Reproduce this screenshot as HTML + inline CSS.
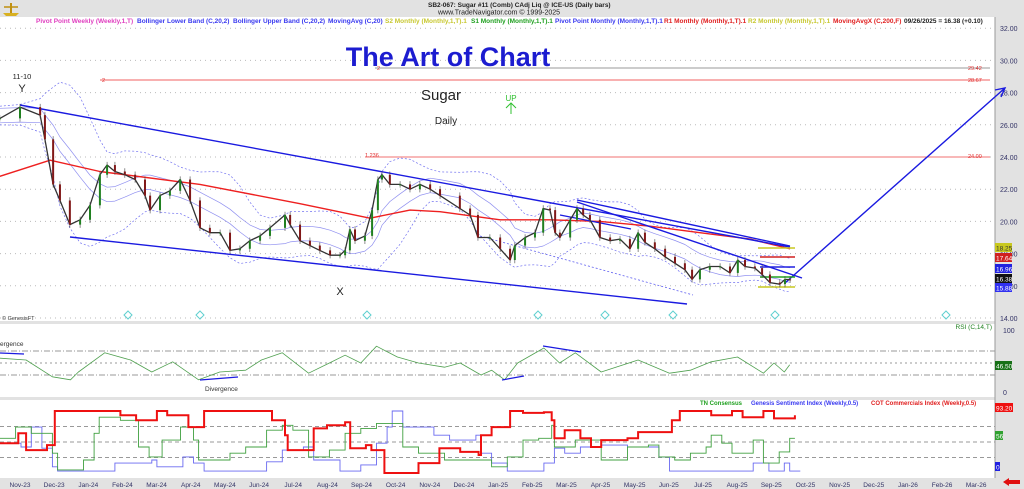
<!DOCTYPE html>
<html><head><meta charset="utf-8">
<style>
body{margin:0;background:#fff;font-family:"Liberation Sans",sans-serif;}
svg{display:block}
text{font-family:"Liberation Sans",sans-serif}
</style></head>
<body>
<svg id="c" width="1024" height="489" viewBox="0 0 1024 489" xmlns="http://www.w3.org/2000/svg">
<rect x="0" y="0" width="1024" height="489" fill="#fff"/>
<rect x="0" y="0" width="1024" height="17" fill="#e2e2e2"/>
<rect x="995" y="0" width="29" height="489" fill="#e2e2e2"/>
<rect x="0" y="478" width="1024" height="11" fill="#e2e2e2"/>
<rect x="0" y="321" width="995" height="3" fill="#e2e2e2"/>
<rect x="0" y="397" width="995" height="3" fill="#e2e2e2"/>
<line x1="995" y1="17" x2="995" y2="478" stroke="#999"/>
<g><path d="M3 13 L19 13 L16 16 L6 16Z" fill="#d8b020"/><line x1="11" y1="3" x2="11" y2="13" stroke="#c09010" stroke-width="2"/><line x1="4" y1="7" x2="18" y2="7" stroke="#c09010" stroke-width="1.5"/></g>
<text x="428" y="7" font-size="6.5" font-weight="bold" fill="#222">SB2-067:  Sugar #11 (Comb) CAdj Liq @ ICE-US  (Daily bars)</text>
<text x="438" y="14.5" font-size="7" fill="#222">www.TradeNavigator.com © 1999-2025</text>
<g font-size="6.5" font-weight="bold">
<text x="36" y="23" fill="#e040c0">Pivot Point Weekly (Weekly,1,T)</text>
<text x="137" y="23" fill="#3a3af0">Bollinger Lower Band (C,20,2)</text>
<text x="233" y="23" fill="#3a3af0">Bollinger Upper Band (C,20,2)</text>
<text x="328" y="23" fill="#3a3af0">MovingAvg (C,20)</text>
<text x="385" y="23" fill="#c8c830">S2 Monthly (Monthly,1,T).1</text>
<text x="471" y="23" fill="#20a020">S1 Monthly (Monthly,1,T).1</text>
<text x="555" y="23" fill="#3a3af0">Pivot Point Monthly (Monthly,1,T).1</text>
<text x="664" y="23" fill="#e02020">R1 Monthly (Monthly,1,T).1</text>
<text x="748" y="23" fill="#c8c830">R2 Monthly (Monthly,1,T).1</text>
<text x="833" y="23" fill="#e02020">MovingAvgX (C,200,F)</text>
<text x="904" y="23" fill="#222">09/26/2025 = 16.38 (+0.10)</text>
</g>
<g id="grid"></g>
<g id="marks"></g>
<text x="448" y="66" font-size="27" font-weight="bold" fill="#1c1cd0" text-anchor="middle">The Art of Chart</text>
<text x="441" y="100" font-size="15" fill="#222" text-anchor="middle">Sugar</text>
<text x="446" y="124" font-size="10" fill="#222" text-anchor="middle">Daily</text>
<text x="511" y="101" font-size="8" fill="#30c030" text-anchor="middle">UP</text>
<path d="M511 103 L511 114 M506 108 L511 103 L516 108" stroke="#30c030" fill="none"/>
<text x="22" y="79" font-size="7.5" fill="#222" text-anchor="middle">11-10</text>
<text x="22" y="92" font-size="11" fill="#222" text-anchor="middle">Y</text>
<text x="340" y="295" font-size="11" fill="#222" text-anchor="middle">X</text>
<text x="2" y="320" font-size="5.5" fill="#333">© GenesisFT</text>
<text x="992" y="329" font-size="6.5" fill="#208020" text-anchor="end">RSI (C,14,T)</text>
<text x="0" y="346" font-size="6.5" fill="#333">ergence</text>
<text x="205" y="391" font-size="6.5" fill="#333">Divergence</text>
<g font-size="6" font-weight="bold">
<text x="700" y="405" fill="#20a020">TN Consensus</text>
<text x="751" y="405" fill="#3a3af0">Genesis Sentiment Index (Weekly,0.5)</text>
<text x="871" y="405" fill="#e02020">COT Commercials Index (Weekly,0.5)</text>
</g>
<path d="M1003 482 L1009 478 L1009 480 L1020 480 L1020 484 L1009 484 L1009 486Z" fill="#e01010"/>
</svg>
<script>
// ---- data ----
const priceT=[-0.59,0,0.59,0.73,0.97,1.17,1.46,1.76,2.05,2.34,2.55,2.78,3.07,3.37,3.66,3.81,4.1,4.39,4.69,4.98,5.27,5.56,5.86,6.15,6.44,6.73,7.03,7.32,7.76,7.91,8.2,8.49,8.78,9.08,9.37,9.52,9.66,9.81,10.1,10.31,10.48,10.6,10.83,11.13,11.42,11.71,12.01,12.3,12.88,13.18,13.41,13.76,14.06,14.35,14.49,14.79,15.08,15.32,15.52,15.67,15.81,16.11,16.31,16.49,16.69,16.98,17.28,17.57,17.86,18.1,18.3,18.59,18.89,19.18,19.47,19.68,19.91,20.2,20.5,20.79,21.02,21.23,21.52,21.73,21.96,22.25,22.4,22.55];
const priceClose=[26.4,27.1,26.6,25.1,22.3,21.3,19.8,20.1,21.0,22.9,23.5,23.1,22.9,22.6,21.6,20.7,21.6,21.9,22.6,21.3,19.6,19.3,19.3,18.2,18.3,18.8,19.1,19.6,20.4,19.8,18.8,18.5,18.2,17.9,17.9,18.2,19.5,18.8,19.1,20.7,22.6,22.9,22.3,22.3,22.0,22.3,22.0,21.6,20.8,20.4,19.0,19.0,18.3,17.6,18.5,19.0,19.3,20.8,20.7,19.3,19.0,20.1,20.8,20.4,20.1,19.0,18.8,18.9,18.3,19.3,18.7,18.3,17.8,17.4,17.0,16.4,17.0,17.2,17.2,16.8,17.6,17.2,17.1,16.7,16.2,16.1,16.4,16.38];
const ma200T=[-0.59,0.88,2.34,5.27,8.2,10.25,11.42,12.3,14.06,15.52,16.98,18.45,19.91,21.38,22.55];
const ma200Val=[22.8,23.8,23.1,22.3,21.1,20.2,20.7,20.6,20.1,20.1,20.0,19.7,19.3,18.9,18.3];
const rsiT=[-0.59,0.18,0.95,1.48,1.71,2.48,3.24,3.86,4.47,5.23,5.85,6.61,7.07,7.68,8.45,9.06,9.52,9.98,10.44,11.05,11.67,12.43,12.89,13.5,13.81,14.19,14.57,15.34,15.8,16.26,17.02,18.1,19.02,19.63,20.24,21.01,21.77,22.08,22.38,22.54];
const rsiVal=[58,55,27,22,35,67,55,35,52,22,35,38,55,67,33,50,63,50,78,60,50,43,50,30,38,22,50,75,50,67,35,55,33,38,52,60,33,50,35,47];
const cotT=[-0.59,-0.05,0.18,0.79,1.02,2.55,2.94,3.4,4.01,4.31,4.93,5.39,7.15,7.38,7.76,7.84,8.45,8.6,8.99,9.52,9.67,10.13,10.29,10.67,11.05,11.67,12.28,12.89,13.43,13.5,13.81,14.35,14.73,15.34,15.57,15.65,15.95,16.41,16.72,17.02,17.79,18.1,18.71,19.09,19.32,20.24,20.85,21.16,21.77,22.08,22.69];
const cotVal=[48,64,37,45,100,100,93,85,100,93,74,100,100,85,61,37,37,72,77,82,40,45,37,0,0,16,40,34,29,61,74,100,97,98,85,56,69,56,42,53,56,66,66,85,100,93,100,90,100,88,93];
const tnT=[-0.59,-0.13,0.33,0.95,1.1,1.71,1.86,2.17,2.32,2.94,3.47,3.78,4.16,4.7,5.08,5.23,6.15,6.61,7.22,7.68,7.99,8.45,9.06,9.52,9.98,10.44,11.21,11.67,12.43,13.35,13.81,14.27,14.73,15.19,15.57,15.65,16.26,17.02,17.79,18.4,18.71,19.17,19.63,20.09,20.24,20.55,20.85,21.47,21.77,22.23,22.54,22.69];
const tnVal=[56,74,64,32,5,5,21,64,90,85,42,26,53,74,53,21,32,42,69,77,69,26,37,64,72,80,42,32,21,21,10,26,53,56,77,42,53,21,42,45,26,21,32,42,61,48,32,53,16,34,56,56];
const genT=[-0.59,0.03,0.33,0.64,0.95,1.1,2.48,2.78,3.86,4.01,4.77,5.08,5.39,6.92,7.22,7.68,8.3,8.6,9.37,9.98,10.44,10.75,10.9,11.21,11.67,12.12,12.58,13.35,13.5,13.81,14.27,15.34,15.65,15.95,16.41,17.02,17.79,18.71,19.02,21.16,21.47,21.93,22.38,22.54,22.85];
const genVal=[48,42,74,40,10,3,3,16,21,10,26,16,3,3,18,37,42,21,3,13,48,74,100,74,74,61,53,61,32,16,3,16,40,32,42,45,42,26,3,3,16,3,16,3,3];
const monthLabels=["Nov-23","Dec-23","Jan-24","Feb-24","Mar-24","Apr-24","May-24","Jun-24","Jul-24","Aug-24","Sep-24","Oct-24","Nov-24","Dec-24","Jan-25","Feb-25","Mar-25","Apr-25","May-25","Jun-25","Jul-25","Aug-25","Sep-25","Oct-25","Nov-25","Dec-25","Jan-26","Feb-26","Mar-26"];
const priceTicks=[32,30,28,26,24,22,20,18,16,14];
const lastLabels=[18.25,17.64,16.96,16.38,15.88];
const lastColors=["#c8c820","#d02020","#2020e0","#111","#3030f0"];

// ---- scales ----
const X=t=>20+t*34.15;
const YP=p=>318-(p-14)*16.1;
const YR=v=>393-v*0.6;
const YB=v=>473-v*0.62;
const NS="http://www.w3.org/2000/svg";
const grid=document.getElementById('grid'), marks=document.getElementById('marks');
function mk(tag,at,parent){const e=document.createElementNS(NS,tag);for(const k in at)e.setAttribute(k,at[k]);(parent||marks).appendChild(e);return e;}

priceTicks.forEach(p=>{
  const l=mk('line',{x1:0,x2:995,y1:YP(p),y2:YP(p),stroke:'#bbb','stroke-dasharray':'1 4'},grid);
  
  
  const t=mk('text',{x:1000,y:YP(p)+3,'font-size':7,fill:'#336'},grid);
  t.textContent=p.toFixed(2);
  
  
});
[70,50,30].forEach((v,i)=>{
  const l=mk('line',{x1:0,x2:995,y1:YR(v),y2:YR(v),stroke:'#999','stroke-dasharray':i==1?'2 3':'6 2 1 2'},grid);
  
  
});
[[100,333],[0,395]].forEach(a=>{const t=mk('text',{x:1003,y:a[1],'font-size':7,fill:'#336'},grid);t.textContent=a[0];
  
  });
[75,50,25].forEach(v=>{
  const l=mk('line',{x1:0,x2:995,y1:YB(v),y2:YB(v),stroke:'#999','stroke-dasharray':'4 3'},grid);
  
  
});
monthLabels.forEach((m,i)=>{
  const t=mk('text',{x:X(i),y:487,'font-size':6.5,fill:'#336','text-anchor':'middle'},grid);
  t.textContent=m;
  
  
});

[[100,80,'#f06060'],[375,68,'#999']].forEach(a=>{
  const l=mk('line',{x1:a[0],x2:990,y1:a[1],y2:a[1],stroke:a[2]});
  
  
});
const fl=mk('line',{x1:365,x2:990,y1:YP(24),y2:YP(24),stroke:'#f07070'});


[[968,70,'29.42'],[968,82,'28.67'],[968,158,'24.00'],[365,157,'1.236'],[102,82,'2'],[377,70,'2']].forEach(a=>{
  const t=mk('text',{x:a[0],y:a[1],'font-size':5.5,fill:'#e03030'});t.textContent=a[2];
  
  
});

// bands from closes (smoothed)
const up=[],lo=[],mid=[];
priceClose.forEach((c,i)=>{const s=priceClose.slice(Math.max(0,i-6),i+1);const m=s.reduce((a,b)=>a+b,0)/s.length;
  const sd=Math.sqrt(s.reduce((a,b)=>a+(b-m)*(b-m),0)/s.length);mid.push(m);up.push(m+1.6*sd+0.3);lo.push(m-1.6*sd-0.3);});
function smooth(a){return a.map((v,i)=>{const s=a.slice(Math.max(0,i-1),i+2);return s.reduce((x,y)=>x+y,0)/s.length;});}
function pline(ts,vs,ys,attrs,name){const d=ts.map((t,i)=>(i?'L':'M')+X(t).toFixed(1)+' '+ys(vs[i]).toFixed(1)).join(' ');
  const p=mk('path',Object.assign({d:d,fill:'none','stroke-linejoin':'round'},attrs));return p;}
function step(ts,vs,ys,attrs,name){let d='';ts.forEach((t,i)=>{d+=i?` L${X(t).toFixed(1)} ${ys(vs[i-1]).toFixed(1)} L${X(t).toFixed(1)} ${ys(vs[i]).toFixed(1)}`:`M${X(t).toFixed(1)} ${ys(vs[i]).toFixed(1)}`;});
  const p=mk('path',Object.assign({d:d,fill:'none'},attrs));return p;}
pline(priceT,smooth(up),YP,{stroke:'#7070f0','stroke-width':0.7,'stroke-dasharray':'2 2'},'bollinger-upper-band');
pline(priceT,smooth(lo),YP,{stroke:'#7070f0','stroke-width':0.7,'stroke-dasharray':'2 2'},'bollinger-lower-band');
const ms=smooth(mid);
pline(priceT,ms.map(v=>v+0.45),YP,{stroke:'#9090f0','stroke-width':0.7},'envelope-upper');
pline(priceT,ms.map(v=>v-0.45),YP,{stroke:'#9090f0','stroke-width':0.7},'envelope-lower');
pline(ma200T,ma200Val,YP,{stroke:'#ee2020','stroke-width':1.4},'moving-average-200');

[[20,105,790,247,'upper-channel-line'],[70,237,687,304,'lower-channel-line'],[577,202,802,278,'inner-trendline'],[577,200,790,246,'inner-trendline-2'],[560,215,631,229,'short-trendline']].forEach(a=>{
  const l=mk('line',{x1:a[0],y1:a[1],x2:a[2],y2:a[3],stroke:'#1a1ae0','stroke-width':1.4});
  });
const dl=mk('line',{x1:480,y1:236,x2:693,y2:295,stroke:'#6060f0','stroke-width':0.8,'stroke-dasharray':'2 2'});

const ar=mk('path',{d:'M785 283 L1005 88 M995 90 L1005 88 L1001 97',stroke:'#1a1ae0','stroke-width':1.4,fill:'none'});

[[758,248,'#c8c820'],[760,257,'#d02020'],[760,267,'#2020e0'],[760,277,'#20a020'],[758,287,'#c8c820']].forEach(a=>{
  const l=mk('line',{x1:a[0],x2:795,y1:a[1],y2:a[1],stroke:a[2],'stroke-width':1.5});
  });

pline(priceT,priceClose,YP,{stroke:'#333','stroke-width':1.3},'price-line');
priceClose.forEach((c,i)=>{const o=i?priceClose[i-1]:c;const x=X(priceT[i]);
  const w=mk('line',{x1:x,x2:x,y1:YP(Math.max(o,c)+0.2),y2:YP(Math.min(o,c)-0.2),stroke:'#444','stroke-width':0.6});
  
  const r=mk('rect',{x:x-1,y:YP(Math.max(o,c)),width:2,height:Math.max(1,Math.abs(YP(o)-YP(c))),fill:c>=o?'#208020':'#801818'});
  });

[128,200,367,538,605,673,775,946].forEach(x=>{const d=mk('path',{d:`M${x} 311 L${x+4} 315 L${x} 319 L${x-4} 315Z`,fill:'none',stroke:'#60d0d0'});
  });

lastLabels.forEach((v,i)=>{const y=[248,258,269,279,288][i];
  const r=mk('rect',{x:995,y:y-5,width:17,height:9,fill:lastColors[i]});
  
  const t=mk('text',{x:996,y:y+2.5,'font-size':6.5,fill:i==0?'#333':'#fff'});t.textContent=v.toFixed(2);
  });

pline(rsiT,rsiVal,YR,{stroke:'#50a050','stroke-width':0.8},'rsi-line');
[[0,353,24,354],[200,380,238,377],[502,380,524,376],[543,346,581,352]].forEach(a=>{
  const l=mk('line',{x1:a[0],y1:a[1],x2:a[2],y2:a[3],stroke:'#1a1ae0','stroke-width':1.2});
  });
const rb=mk('rect',{x:995,y:361,width:17,height:9,fill:'#187018'});
const rt=mk('text',{x:996,y:368.5,'font-size':6.5,fill:'#fff'});rt.textContent='46.50';

step(genT,genVal,YB,{stroke:'#6a6af0','stroke-width':0.9},'genesis-sentiment-line');
step(tnT,tnVal,YB,{stroke:'#40a040','stroke-width':0.9},'tn-consensus-line');
step(cotT,cotVal,YB,{stroke:'#ee1010','stroke-width':2},'cot-commercials-line');
[[408,'#ee1010','93.20',18],[436,'#30a030','56',8],[467,'#2020e0','0',5]].forEach(a=>{
  const r=mk('rect',{x:995,y:a[0]-5,width:a[3],height:9,fill:a[1]});
  const t=mk('text',{x:996,y:a[0]+2.5,'font-size':6.5,fill:'#fff'});t.textContent=a[2];});
</script>
</body></html>
